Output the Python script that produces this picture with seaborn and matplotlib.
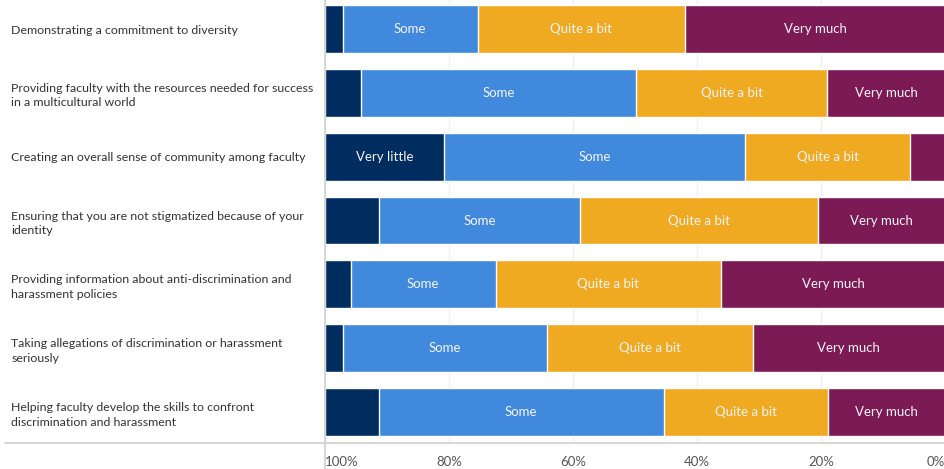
import numpy as np
import pandas as pd
import matplotlib
matplotlib.use("Agg")
import matplotlib.pyplot as plt
import seaborn as sns
from matplotlib.lines import Line2D

items = [
    "Demonstrating a commitment to diversity",
    "Providing faculty with the resources needed for success\nin a multicultural world",
    "Creating an overall sense of community among faculty",
    "Ensuring that you are not stigmatized because of your\nidentity",
    "Providing information about anti-discrimination and\nharassment policies",
    "Taking allegations of discrimination or harassment\nseriously",
    "Helping faculty develop the skills to confront\ndiscrimination and harassment",
]
levels = ["Very little", "Some", "Quite a bit", "Very much"]
very_little = [2.9, 5.8, 19.2, 8.7, 4.2, 2.9, 8.7]
some = [21.7, 44.4, 48.6, 32.5, 23.3, 32.9, 45.9]
quite_a_bit = [33.5, 30.8, 26.6, 38.3, 36.4, 33.2, 26.6]
very_much = [41.9, 19.0, 5.6, 20.5, 36.1, 31.0, 18.8]
colors = ["#002d60", "#4189dc", "#efaa22", "#7b1a55"]
ticks = [100, 80, 60, 40, 20, 0]

sns.set_style("white")
plt.rcParams["font.family"] = ["Lato", "DejaVu Sans"]

df = pd.DataFrame({"item": items, "Very little": very_little, "Some": some,
                   "Quite a bit": quite_a_bit, "Very much": very_much})

fig = plt.figure(figsize=(9.44, 4.69), dpi=100)
ax = fig.add_axes([325 / 944, 1 - 443 / 469, 620 / 944, 443 / 469])

# stacked from the right (0%) towards the left (100%)
vals = df[levels[::-1]].to_numpy()
cum = np.cumsum(vals, axis=1)
for k in range(3, -1, -1):
    sns.barplot(x=cum[:, k], y=df["item"], orient="h", color=colors[3 - k],
                width=0.75, saturation=1, ax=ax, zorder=2)

for i in range(len(items)):
    start = 0.0
    for k in range(4):
        v = vals[i, k]
        if v >= 10:
            ax.text(start + v / 2, i, levels[3 - k], ha="center", va="center",
                    color="#f4f4f4", fontsize=9.5, zorder=3)
        start += v

ax.set_xlim(100, 0)
ax.set_ylim(6.486, -0.455)
ax.set_xticks(ticks)
ax.set_xticklabels([f"{t}%" for t in ticks], color="#555555", fontsize=9.5)
xl = ax.get_xticklabels()
xl[0].set_ha("left")
xl[-1].set_ha("right")
ax.tick_params(axis="x", length=0, pad=9)
ax.tick_params(axis="y", length=0, pad=226)
for lab in ax.get_yticklabels():
    lab.set_ha("left")
    lab.set_color("#333333")
    lab.set_fontsize(8.9)
    lab.set_linespacing(1.4)
ax.set_xlabel("")
ax.set_ylabel("")
for s in ax.spines.values():
    s.set_visible(False)
ax.grid(axis="x", color="#efefef", linewidth=1, zorder=0)
ax.set_axisbelow(True)

fig.add_artist(Line2D([5 / 944, 1], [1 - 443 / 469] * 2, color="#cfcfcf", lw=1.2))
fig.add_artist(Line2D([324.5 / 944] * 2, [0, 1], color="#cfcfcf", lw=1.2))

fig.savefig("out.png", dpi=100)
